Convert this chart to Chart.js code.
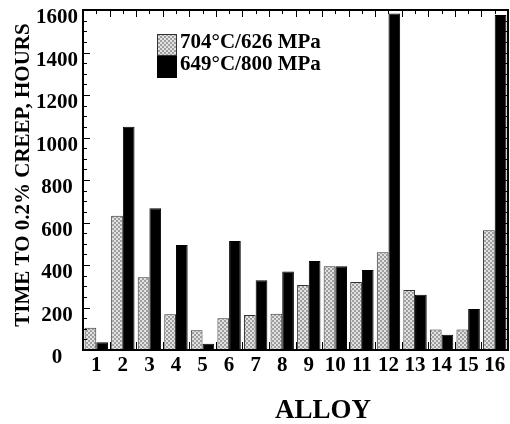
<!DOCTYPE html>
<html><head><meta charset="utf-8">
<script src="https://cdn.jsdelivr.net/npm/chart.js@4"></script>
<style>html,body{margin:0;padding:0;background:#fff}#wrap{width:510px;height:424px}</style>
</head><body><div id="wrap"><canvas id="c" width="510" height="424"></canvas></div>
<script>
const categories = ['1','2','3','4','5','6','7','8','9','10','11','12','13','14','15','16'];
const series704 = [105,632,342,168,93,149,165,171,306,394,320,460,282,97,97,563];
const series649 = [36,1051,667,494,30,513,328,370,419,394,376,1584,260,72,193,1576];
const seriesLabels = ['704°C/626 MPa','649°C/800 MPa'];
const yMin = 0, yMax = 1600, yStep = 200, yMinor = 50;
const xTitle = 'ALLOY';
const yTitle = 'TIME TO 0.2% CREEP, HOURS';

const FONT = "'Liberation Serif', 'Times New Roman', serif";
const canvas = document.getElementById('c');
const ctx = canvas.getContext('2d');

function makePattern(c) {
  const p = document.createElement('canvas');
  p.width = 4; p.height = 4;
  const g = p.getContext('2d');
  g.fillStyle = '#e2e2e2'; g.fillRect(0, 0, 4, 4);
  g.fillStyle = '#9e9e9e'; g.fillRect(0, 0, 2, 2); g.fillRect(2, 2, 2, 2);
  return c.createPattern(p, 'repeat');
}
const grayPattern = makePattern(ctx);

const framePlugin = {
  id: 'frame',
  afterDraw(chart) {
    const c = chart.ctx, a = chart.chartArea;
    const xs = chart.scales.x, ys = chart.scales.y;
    c.save();
    c.strokeStyle = '#000';
    c.lineWidth = 1;
    c.beginPath();
    for (let v = yMin; v <= yMax; v += yMinor) {
      const y = Math.round(ys.getPixelForValue(v)) + 0.5;
      const major = (v % yStep) === 0;
      const L = major ? 7 : 4;
      c.moveTo(a.left, y); c.lineTo(a.left + L, y);
      c.moveTo(a.right, y); c.lineTo(a.right - (major ? 5 : 4), y);
    }
    const n = categories.length;
    for (let i = 0; i <= n; i++) {
      const xb = Math.round(xs.getPixelForValue(i - 0.5)) + 0.5;
      if (i > 0 && i < n) {
        c.moveTo(xb, a.top); c.lineTo(xb, a.top + 7);
        c.moveTo(xb, a.bottom); c.lineTo(xb, a.bottom - 8);
      }
      if (i < n) {
        const xc = Math.round(xs.getPixelForValue(i)) + 0.5;
        c.moveTo(xc, a.top); c.lineTo(xc, a.top + 4);
      }
    }
    c.stroke();
    c.lineWidth = 2;
    c.strokeRect(a.left, a.top, a.right - a.left, a.bottom - a.top);
    // legend
    const bx = 157, by = 34, bw = 20, bh = 22;
    c.fillStyle = grayPattern;
    c.fillRect(bx, by, bw, bh);
    c.lineWidth = 1;
    c.strokeStyle = '#333';
    c.strokeRect(bx + 0.5, by + 0.5, bw - 1, bh - 1);
    c.fillStyle = '#000';
    c.fillRect(bx, by + bh, bw, bh);
    c.font = "bold 21px " + FONT;
    c.textAlign = 'left';
    c.textBaseline = 'alphabetic';
    c.fillText(seriesLabels[0], 180, 48);
    c.fillText(seriesLabels[1], 180, 70);
    // axis titles
    c.font = "bold 27px " + FONT;
    c.textAlign = 'center';
    c.fillText(xTitle, 323, 418);
    c.save();
    c.translate(29, 175);
    c.rotate(-Math.PI / 2);
    c.font = "bold 21px " + FONT;
    c.fillText(yTitle, 0, 0);
    c.restore();
    c.restore();
  }
};

new Chart(ctx, {
  type: 'bar',
  data: {
    labels: categories,
    datasets: [
      { label: seriesLabels[0], data: series704, backgroundColor: grayPattern, borderColor: '#333', borderWidth: 1, borderSkipped: 'bottom' },
      { label: seriesLabels[1], data: series649, backgroundColor: '#000', borderColor: '#000', borderWidth: 1, borderSkipped: 'bottom' }
    ]
  },
  options: {
    responsive: false,
    animation: false,
    layout: { padding: { left: 0, right: 2, top: 10, bottom: 0 } },
    datasets: { bar: { categoryPercentage: 0.88, barPercentage: 1.0 } },
    plugins: { legend: { display: false }, tooltip: { enabled: false } },
    scales: {
      x: {
        grid: { display: false, drawTicks: false },
        border: { display: false },
        ticks: { font: { family: FONT, weight: 'bold', size: 21 }, color: '#000', padding: 3, maxRotation: 0, autoSkip: false },
        afterFit(s) { s.height = 74; s.paddingLeft = 0; s.paddingRight = 0; }
      },
      y: {
        min: yMin, max: yMax,
        grid: { display: false, drawTicks: false },
        border: { display: false },
        ticks: { stepSize: yStep, font: { family: FONT, weight: 'bold', size: 21 }, color: '#000', padding: 5, crossAlign: 'center', labelOffset: 8, callback: v => String(v) },
        afterFit(s) { s.width = 83; s.paddingTop = 0; s.paddingBottom = 0; }
      }
    }
  },
  plugins: [framePlugin]
});
</script>
</body></html>
